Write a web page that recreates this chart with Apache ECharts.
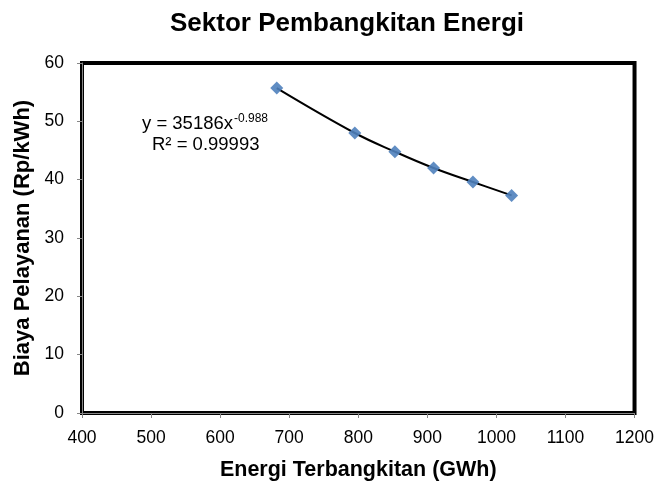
<!DOCTYPE html>
<html>
<head>
<meta charset="utf-8">
<script src="https://cdn.jsdelivr.net/npm/echarts@6/dist/echarts.min.js"></script>
<style>html,body{margin:0;padding:0;background:#fff}#c{width:657px;height:486px}</style>
</head>
<body>
<div id="c"></div>
<script>
const energyGWh = [682, 795, 853, 909, 966, 1022];
const costRpPerKWh = [55.7, 48.0, 44.8, 42.0, 39.6, 37.3];
const xTicks = [400, 500, 600, 700, 800, 900, 1000, 1100, 1200];
const yTicks = [0, 10, 20, 30, 40, 50, 60];
const titleText = 'Sektor Pembangkitan Energi';
const xName = 'Energi Terbangkitan (GWh)';
const yName = 'Biaya Pelayanan (Rp/kWh)';
const eqMain = 'y = 35186x';
const eqExp = '-0.988';
const eqR2 = 'R² = 0.99993';

const pts = energyGWh.map((x, i) => [x, costRpPerKWh[i]]);
const FONT = '"Liberation Sans", Arial, sans-serif';
const chart = echarts.init(document.getElementById('c'), null, {renderer: 'canvas'});
chart.setOption({
  animation: false,
  backgroundColor: '#fff',
  title: {
    text: titleText, left: 342, textAlign: 'center', top: 6,
    textStyle: {fontFamily: FONT, fontSize: 26, fontWeight: 'bold', color: '#000'}
  },
  grid: {left: 82, right: 21, top: 63, bottom: 73, show: true, borderColor: '#000', borderWidth: 4, backgroundColor: '#fff'},
  xAxis: {
    type: 'value', min: 400, max: 1200, interval: 100,
    name: xName, nameLocation: 'middle', nameGap: 46,
    nameTextStyle: {fontFamily: FONT, fontSize: 21.5, fontWeight: 'bold', color: '#000', verticalAlign: 'top'},
    axisLine: {show: true, lineStyle: {color: '#868686', width: 1}},
    axisTick: {show: true, length: 5, lineStyle: {color: '#868686'}},
    axisLabel: {fontFamily: FONT, fontSize: 17.5, color: '#000', margin: 16,
      formatter: v => xTicks.includes(v) ? String(v) : ''},
    splitLine: {show: false}
  },
  yAxis: {
    type: 'value', min: 0, max: 60, interval: 10,
    name: yName, nameLocation: 'middle', nameGap: 47, nameRotate: 90,
    nameTextStyle: {fontFamily: FONT, fontSize: 22, fontWeight: 'bold', color: '#000'},
    axisLine: {show: true, lineStyle: {color: '#868686', width: 1}},
    axisTick: {show: true, length: 5, lineStyle: {color: '#868686'}},
    axisLabel: {fontFamily: FONT, fontSize: 17.5, color: '#000', margin: 18,
      formatter: v => yTicks.includes(v) ? String(v) : ''},
    splitLine: {show: false}
  },
  series: [
    {
      type: 'line', data: pts, smooth: 0.4, showSymbol: false, symbol: 'none',
      lineStyle: {color: '#000', width: 2}, z: 2
    },
    {
      type: 'scatter', data: pts, symbol: 'diamond', symbolSize: 13,
      itemStyle: {color: '#4F81BD', opacity: 0.9}, z: 3
    }
  ],
  graphic: [
    {type: 'text', left: 142, top: 114, style: {text: eqMain, font: '18.5px ' + FONT, fill: '#000'}},
    {type: 'text', left: 234, top: 113, style: {text: eqExp, font: '12px ' + FONT, fill: '#000'}},
    {type: 'text', left: 152, top: 135, style: {text: eqR2, font: '18.5px ' + FONT, fill: '#000'}}
  ]
});
</script>
</body>
</html>
